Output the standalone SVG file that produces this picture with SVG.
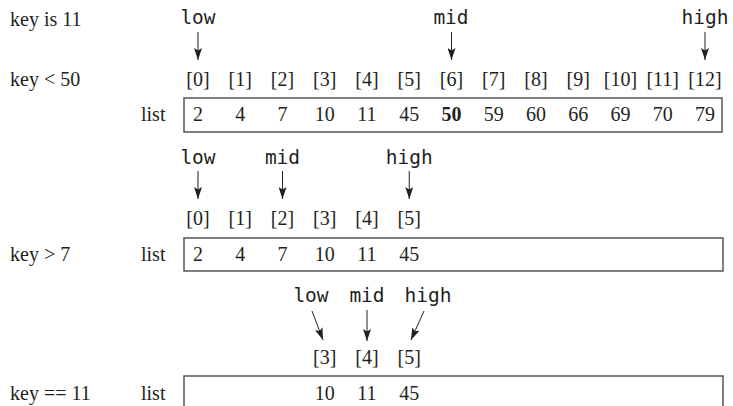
<svg xmlns="http://www.w3.org/2000/svg" width="733" height="406" viewBox="0 0 733 406">
  <defs>
    <marker id="ah" viewBox="0 0 12 8" refX="12" refY="4" markerWidth="12" markerHeight="8" markerUnits="userSpaceOnUse" orient="auto">
      <path d="M0,0 L12,4 L0,8 L2.5,4 z" fill="#231f20"/>
    </marker>
  </defs>
  <style>
    .s { font-family: "Liberation Serif", "Times New Roman", serif; font-size: 20px; fill: #231f20; }
    .c { text-anchor: middle; }
    .b { font-weight: bold; }
    .m { font-family: "DejaVu Sans Mono", monospace; font-size: 19.5px; fill: #231f20; text-anchor: middle; }
    .box { fill: none; stroke: #4a4a4a; stroke-width: 1.4; }
    .arr { stroke: #231f20; stroke-width: 1; fill: none; marker-end: url(#ah); }
  </style>
  <rect width="733" height="406" fill="#ffffff"/>

  <g id="row1">
    <text class="s" x="10" y="26">key is 11</text>
    <text class="s" x="10" y="86">key &lt; 50</text>
    <text class="m" x="198" y="24">low</text>
    <text class="m" x="451" y="24">mid</text>
    <text class="m" x="705" y="24">high</text>
    <g class="s c">
      <text x="198" y="86">[0]</text>
      <text x="240.25" y="86">[1]</text>
      <text x="282.5" y="86">[2]</text>
      <text x="324.75" y="86">[3]</text>
      <text x="367" y="86">[4]</text>
      <text x="409.25" y="86">[5]</text>
      <text x="451.5" y="86">[6]</text>
      <text x="493.75" y="86">[7]</text>
      <text x="536" y="86">[8]</text>
      <text x="578.25" y="86">[9]</text>
      <text x="620.5" y="86">[10]</text>
      <text x="662.75" y="86">[11]</text>
      <text x="705" y="86">[12]</text>
    </g>
    <text class="s" x="141" y="121">list</text>
    <rect class="box" x="184" y="98" width="538" height="34"/>
    <g class="s c">
      <text x="198" y="121">2</text>
      <text x="240.25" y="121">4</text>
      <text x="282.5" y="121">7</text>
      <text x="324.75" y="121">10</text>
      <text x="367" y="121">11</text>
      <text x="409.25" y="121">45</text>
      <text class="b" x="451.5" y="121">50</text>
      <text x="493.75" y="121">59</text>
      <text x="536" y="121">60</text>
      <text x="578.25" y="121">66</text>
      <text x="620.5" y="121">69</text>
      <text x="662.75" y="121">70</text>
      <text x="705" y="121">79</text>
    </g>
  </g>

  <g id="row2">
    <text class="m" x="198" y="164">low</text>
    <text class="m" x="282.5" y="164">mid</text>
    <text class="m" x="409.25" y="164">high</text>
    <g class="s c">
      <text x="198" y="225">[0]</text>
      <text x="240.25" y="225">[1]</text>
      <text x="282.5" y="225">[2]</text>
      <text x="324.75" y="225">[3]</text>
      <text x="367" y="225">[4]</text>
      <text x="409.25" y="225">[5]</text>
    </g>
    <text class="s" x="10" y="261">key &gt; 7</text>
    <text class="s" x="141" y="261">list</text>
    <rect class="box" x="184" y="238" width="539" height="33"/>
    <g class="s c">
      <text x="198" y="261">2</text>
      <text x="240.25" y="261">4</text>
      <text x="282.5" y="261">7</text>
      <text x="324.75" y="261">10</text>
      <text x="367" y="261">11</text>
      <text x="409.25" y="261">45</text>
    </g>
  </g>

  <g id="row3">
    <text class="m" x="311" y="302">low</text>
    <text class="m" x="367" y="302">mid</text>
    <text class="m" x="428" y="302">high</text>
    <g class="s c">
      <text x="324.75" y="364">[3]</text>
      <text x="367" y="364">[4]</text>
      <text x="409.25" y="364">[5]</text>
    </g>
    <text class="s" x="10" y="400">key == 11</text>
    <text class="s" x="141" y="400">list</text>
    <rect class="box" x="184" y="376" width="539" height="40"/>
    <g class="s c">
      <text x="324.75" y="400">10</text>
      <text x="367" y="400">11</text>
      <text x="409.25" y="400">45</text>
    </g>
  </g>

  <g id="connectors">
    <line class="arr" x1="198" y1="32" x2="198" y2="60"/>
    <line class="arr" x1="451.5" y1="32" x2="451.5" y2="60"/>
    <line class="arr" x1="705" y1="32" x2="705" y2="60"/>
    <line class="arr" x1="198" y1="171" x2="198" y2="199"/>
    <line class="arr" x1="282.5" y1="171" x2="282.5" y2="199"/>
    <line class="arr" x1="409.25" y1="171" x2="409.25" y2="199"/>
    <line class="arr" x1="312" y1="311" x2="323" y2="340"/>
    <line class="arr" x1="367" y1="310" x2="367" y2="341"/>
    <line class="arr" x1="424" y1="311" x2="411" y2="340"/>
  </g>
</svg>
